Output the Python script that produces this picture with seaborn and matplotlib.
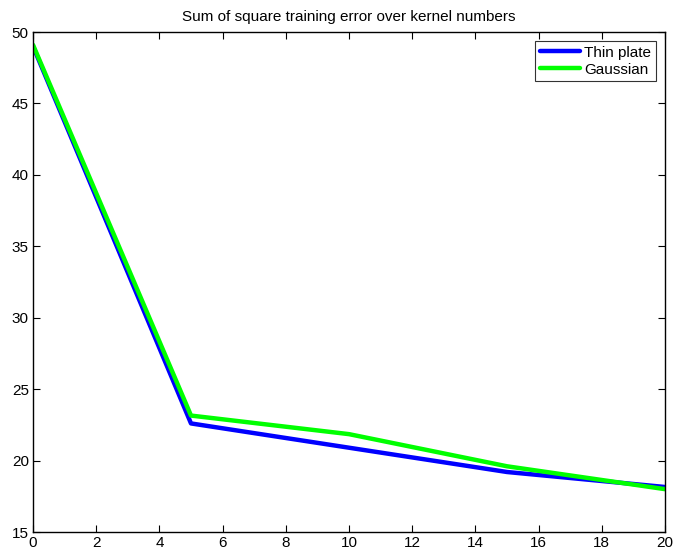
import pandas as pd
import matplotlib.pyplot as plt
import seaborn as sns

# kernel numbers and training error for each basis function
kernels = [0, 5, 10, 15, 20]
thin_plate = [49.0, 22.6, 20.9, 19.2, 18.15]
gaussian = [49.1, 23.15, 21.85, 19.6, 18.0]

df = pd.DataFrame({
    'Kernels': kernels * 2,
    'Error': thin_plate + gaussian,
    'Type': ['Thin plate'] * len(kernels) + ['Gaussian'] * len(kernels),
})

sns.set_theme(style="ticks", rc={'text.color': 'black', 'xtick.color': 'black',
                                 'ytick.color': 'black', 'axes.labelcolor': 'black'})
plt.rcParams['font.family'] = ['Liberation Sans', 'DejaVu Sans']

fig = plt.figure(figsize=(6.78, 5.5), dpi=100)
ax = fig.add_axes([33 / 678, 18 / 550, 632 / 678, 500 / 550])

sns.lineplot(data=df, x='Kernels', y='Error', hue='Type',
             palette={'Thin plate': '#0000ff', 'Gaussian': '#00ff00'},
             linewidth=3.2, ax=ax)

ax.set_xlim(0, 20)
ax.set_ylim(15, 50)
ax.set_xticks(range(0, 21, 2))
ax.set_yticks(range(15, 51, 5))
ax.tick_params(direction='in', top=True, right=True, length=5, width=0.8,
               labelsize=11, pad=3, colors='black')
for s in ax.spines.values():
    s.set_linewidth(1.0)
    s.set_color('black')
ax.set_xlabel('')
ax.set_ylabel('')
ax.set_title('Sum of square training error over kernel numbers', fontsize=11,
             pad=8, color='black')

leg = ax.legend(loc='upper right', fontsize=11, frameon=True, fancybox=False,
                edgecolor='black', handlelength=2.6, borderpad=0.3,
                labelspacing=0.2, handletextpad=0.3, borderaxespad=0.6)
leg.get_frame().set_linewidth(0.8)
for line in leg.get_lines():
    line.set_linewidth(3.2)
for t in leg.get_texts():
    t.set_color('black')

plt.savefig('out.png', dpi=100)
plt.close()
